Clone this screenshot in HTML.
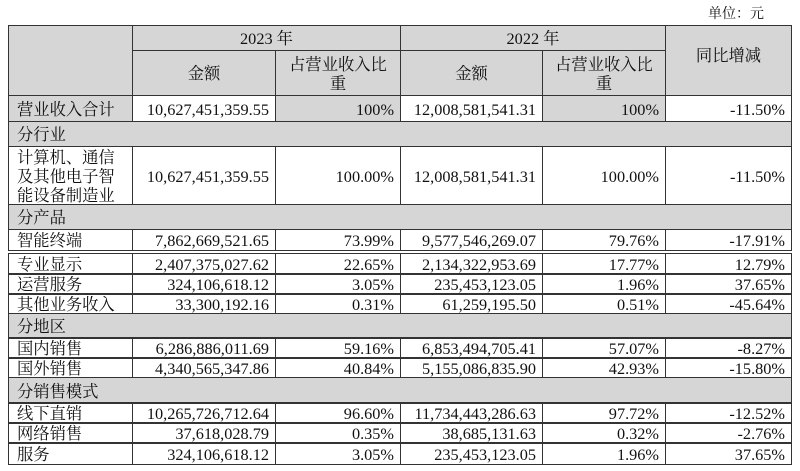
<!DOCTYPE html>
<html><head><meta charset="utf-8">
<style>
body{margin:0;width:800px;height:471px;background:#fff;position:relative;overflow:hidden;font-family:"Liberation Serif","Noto Serif CJK SC",serif;color:#111;}
.c{position:absolute;box-sizing:border-box;border:1px solid #333;font-size:16.3px;line-height:19px;white-space:nowrap;}
.g{background:#d6d6d6;}
.l{text-align:left;padding-left:8px;font-size:16.3px;}
.r{text-align:right;padding-right:6px;}
.m{text-align:center;}
#unit{position:absolute;left:708px;top:3px;font-size:14px;}
</style></head><body>
<div id="unit">单位：元</div>
<div id="t"></div>
<script>
const colX=[8,132,275,400,542,665,791];
const rowLabels=["营业收入合计","分行业","计算机、通信<br>及其他电子智<br>能设备制造业","分产品","智能终端","专业显示","运营服务","其他业务收入","分地区","国内销售","国外销售","分销售模式","线下直销","网络销售","服务"];
const rowY=[[95,121],[121,146],[146,204],[204,229],[229,250],[253,274],[273,294],[293,314],[313,338],[337,358],[357,378],[377,403],[402,423],[422,443],[442,464]];
const amt2023=["10,627,451,359.55","","10,627,451,359.55","","7,862,669,521.65","2,407,375,027.62","324,106,618.12","33,300,192.16","","6,286,886,011.69","4,340,565,347.86","","10,265,726,712.64","37,618,028.79","324,106,618.12"];
const pct2023=["100%","","100.00%","","73.99%","22.65%","3.05%","0.31%","","59.16%","40.84%","","96.60%","0.35%","3.05%"];
const amt2022=["12,008,581,541.31","","12,008,581,541.31","","9,577,546,269.07","2,134,322,953.69","235,453,123.05","61,259,195.50","","6,853,494,705.41","5,155,086,835.90","","11,734,443,286.63","38,685,131.63","235,453,123.05"];
const pct2022=["100%","","100.00%","","79.76%","17.77%","1.96%","0.51%","","57.07%","42.93%","","97.72%","0.32%","1.96%"];
const yoy=["-11.50%","","-11.50%","","-17.91%","12.79%","37.65%","-45.64%","","-8.27%","-15.80%","","-12.52%","-2.76%","37.65%"];
const t=document.getElementById('t');
function cell(x0,x1,y0,y1,html,cls){
  const d=document.createElement('div');
  d.className='c '+cls;
  d.style.left=x0+'px';d.style.top=y0+'px';d.style.width=(x1-x0+1)+'px';d.style.height=(y1-y0+1)+'px';
  d.innerHTML=html;
  const lines=(html.match(/<br>/g)||[]).length+1;
  d.style.paddingTop=Math.max(0,((y1-y0)-lines*19)/2)+'px';
  t.appendChild(d);return d;
}
let h;
h=cell(8,132,25,95,'','g');


h=cell(132,400,25,50,'2023 年','g m');


h=cell(400,665,25,50,'2022 年','g m');


h=cell(665,791,25,95,'同比增减','g m');


h.style.paddingTop='20px';
h=cell(132,275,50,95,'金额','g m');


h=cell(275,400,50,95,'占营业收入比<br>重','g m');


h=cell(400,542,50,95,'金额','g m');


h=cell(542,665,50,95,'占营业收入比<br>重','g m');


for(let i=0;i<rowLabels.length;i++){
  const [y0,y1]=rowY[i];
  if(amt2023[i]===''){
    const s=cell(8,791,y0,y1,rowLabels[i],'g l');
    
    
    continue;
  }
  const lab=cell(colX[0],colX[1],y0,y1,rowLabels[i],'l'+(i===0?' g':''));
  
  
  const vals=[amt2023[i],pct2023[i],amt2022[i],pct2022[i],yoy[i]];
  for(let j=0;j<5;j++){
    const gray=(i===0&&(j===1||j===3));
    const c=cell(colX[j+1],colX[j+2],y0,y1,vals[j],'r'+(gray?' g':''));
    
    
  }
}
</script>
</body></html>
